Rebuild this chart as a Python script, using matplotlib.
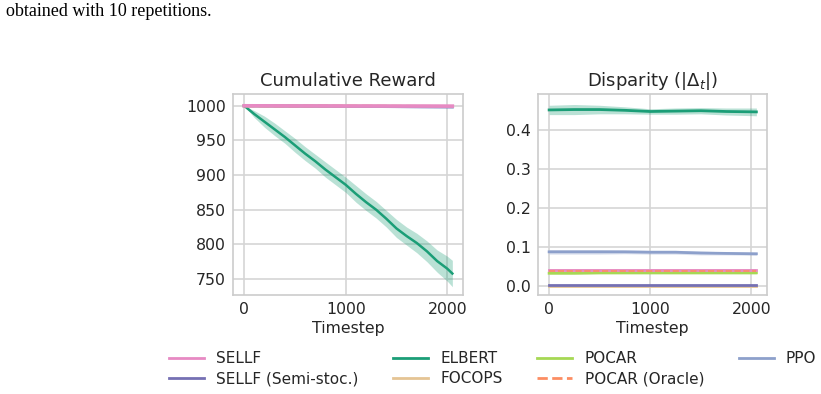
import matplotlib
matplotlib.use("Agg")
import matplotlib.pyplot as plt
from matplotlib.lines import Line2D
import numpy as np

# ---------------- data ----------------
t_fine = [0, 100, 200, 300, 400, 500, 600, 700, 800, 900, 1000, 1100, 1200,
          1300, 1400, 1500, 1600, 1700, 1800, 1900, 2000, 2050]
elbert_reward = [1000, 988, 977, 966, 955, 943, 931, 920, 908, 897, 886, 873,
                 861, 850, 837, 823, 812, 802, 790, 776, 765, 758]
elbert_reward_err = [0, 5, 8, 9, 9, 10, 10, 10, 11, 11, 11, 12, 12, 12, 12,
                     13, 13, 14, 15, 16, 18, 19]

t_coarse = [0, 250, 500, 750, 1000, 1250, 1500, 1750, 2050]
sellf_reward = [1000, 999.9, 999.8, 999.8, 999.7, 999.7, 999.6, 999.6, 999.5]
semi_reward = [1000, 999.7, 999.5, 999.3, 999.1, 998.9, 998.7, 998.5, 998.3]
focops_reward = [1000, 999.8, 999.6, 999.5, 999.4, 999.3, 999.2, 999.1, 999.0]
pocar_reward = [1000, 999.8, 999.7, 999.6, 999.5, 999.4, 999.3, 999.2, 999.1]
oracle_reward = [1000, 999.8, 999.7, 999.6, 999.5, 999.4, 999.3, 999.2, 999.1]
ppo_reward = [1000, 999.8, 999.6, 999.4, 999.2, 999.0, 998.8, 998.6, 998.4]

elbert_disp = [0.452, 0.453, 0.453, 0.451, 0.448, 0.449, 0.450, 0.448, 0.447]
elbert_disp_err = [0.012, 0.013, 0.011, 0.009, 0.007, 0.008, 0.008, 0.009, 0.010]
ppo_disp = [0.087, 0.087, 0.087, 0.087, 0.086, 0.086, 0.084, 0.083, 0.082]
ppo_disp_err = [0.006, 0.006, 0.006, 0.005, 0.005, 0.005, 0.005, 0.004, 0.004]
sellf_disp = [0.040, 0.040, 0.040, 0.040, 0.040, 0.040, 0.040, 0.040, 0.040]
sellf_disp_err = [0.003] * 9
semi_disp = [0.002, 0.002, 0.002, 0.002, 0.002, 0.002, 0.002, 0.002, 0.002]
semi_disp_err = [0.001] * 9
focops_disp = [0.000, 0.000, 0.000, 0.000, 0.000, 0.000, 0.000, 0.000, 0.000]
focops_disp_err = [0.002] * 9
pocar_disp = [0.032, 0.032, 0.033, 0.033, 0.033, 0.033, 0.033, 0.033, 0.033]
pocar_disp_err = [0.003] * 9
oracle_disp = [0.038, 0.038, 0.038, 0.038, 0.038, 0.038, 0.038, 0.038, 0.038]
oracle_disp_err = [0.004] * 9

labels = ["SELLF", "SELLF (Semi-stoc.)", "ELBERT", "FOCOPS", "POCAR",
          "POCAR (Oracle)", "PPO"]
colors = ["#e78ac3", "#7570b3", "#1b9e77", "#e5c494", "#a6d854", "#fc8d62",
          "#8da0cb"]
styles = ["-", "-", "-", "-", "-", "--", "-"]

# ---------------- style ----------------
plt.rcParams.update({
    "font.family": "DejaVu Sans",
    "axes.edgecolor": "#cccccc",
    "axes.linewidth": 1.2,
    "grid.color": "#d5d5d5",
    "grid.linewidth": 1.2,
    "xtick.color": "#262626",
    "ytick.color": "#262626",
    "text.color": "#262626",
    "axes.labelcolor": "#262626",
})

fig = plt.figure(figsize=(8.21, 3.94), dpi=100)
ax1 = fig.add_axes([233 / 821, 99 / 394, 230 / 821, 201 / 394])
ax2 = fig.add_axes([538 / 821, 99 / 394, 229 / 821, 201 / 394])

fig.text(6 / 821, 1 - 12 / 394, "obtained with 10 repetitions.",
         family="Liberation Serif", fontsize=13, va="center", ha="left",
         color="black")

# reward panel
t_c = np.array(t_coarse)
t_f = np.array(t_fine)
rew = [sellf_reward, semi_reward, None, focops_reward, pocar_reward,
       oracle_reward, ppo_reward]
for i, lab in enumerate(labels):
    if lab == "ELBERT":
        y = np.array(elbert_reward)
        e = np.array(elbert_reward_err)
        ax1.fill_between(t_f, y - e, y + e, color=colors[i], alpha=0.3,
                         lw=0, zorder=2)
        ax1.plot(t_f, y, color=colors[i], lw=1.8, zorder=3)
    else:
        z = 5 if lab == "SELLF" else 3
        ax1.plot(t_c, rew[i], color=colors[i], lw=2.6 if lab == "SELLF" else 2,
                 ls=styles[i], zorder=z)

# disparity panel
disp = [(sellf_disp, sellf_disp_err), (semi_disp, semi_disp_err),
        (elbert_disp, elbert_disp_err), (focops_disp, focops_disp_err),
        (pocar_disp, pocar_disp_err), (oracle_disp, oracle_disp_err),
        (ppo_disp, ppo_disp_err)]
order = [3, 4, 0, 5, 1, 2, 6]
for i in order:
    y = np.array(disp[i][0])
    e = np.array(disp[i][1])
    ax2.fill_between(t_c, y - e, y + e, color=colors[i], alpha=0.3, lw=0,
                     zorder=2)
    ax2.plot(t_c, y, color=colors[i], lw=2 if styles[i] == "-" else 1.2,
             ls=styles[i], zorder=3)

for ax in (ax1, ax2):
    ax.set_facecolor("white")
    ax.grid(True, zorder=0)
    ax.set_axisbelow(True)
    ax.set_xticks([0, 1000, 2000])
    ax.set_xlim(-110, 2155)
    ax.tick_params(labelsize=11.3, length=0, pad=5)
    ax.set_xlabel("Timestep", fontsize=11.3, labelpad=3)
    for s in ax.spines.values():
        s.set_color("#cccccc")

ax1.set_ylim(727, 1017)
ax1.set_yticks([750, 800, 850, 900, 950, 1000])
ax2.set_ylim(-0.024, 0.493)
ax2.set_yticks([0.0, 0.1, 0.2, 0.3, 0.4])
ax2.set_yticklabels(["0.0", "0.1", "0.2", "0.3", "0.4"])

ax1.set_title("Cumulative Reward", fontsize=13, pad=6)
ax2.set_title(r"Disparity ($|\Delta_t|$)", fontsize=13, pad=6)

leg_handles = [Line2D([0], [0], color=c, lw=2, ls=s)
               for c, s in zip(colors, styles)]
fig.legend(leg_handles, labels, ncol=4, frameon=False, fontsize=11,
           loc="upper left", bbox_to_anchor=(163 / 821, 1 - 345 / 394),
           handlelength=2.3, handletextpad=0.8, columnspacing=2.25,
           labelspacing=0.35, borderaxespad=0)

fig.savefig("out.png", dpi=100)
